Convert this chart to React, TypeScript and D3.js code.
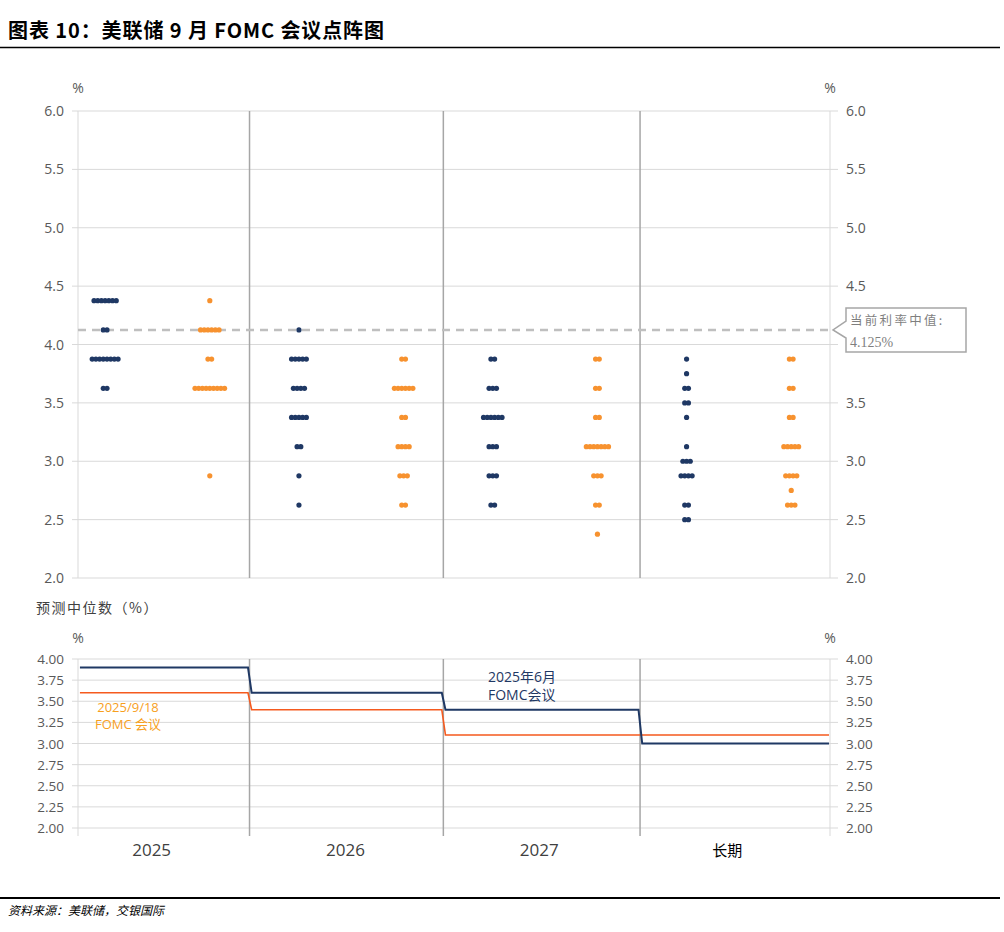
import React from "react";
import * as d3 from "d3";

// ---------- DATA ----------
const groups = ["2025", "2026", "2027", "长期"];
// dots: [rate, count]
const junDots2025 = [[4.375, 7], [4.125, 2], [3.875, 8], [3.625, 2]];
const junDots2026 = [[4.125, 1], [3.875, 5], [3.625, 4], [3.375, 5], [3.125, 2], [2.875, 1], [2.625, 1]];
const junDots2027 = [[3.875, 2], [3.625, 3], [3.375, 6], [3.125, 3], [2.875, 3], [2.625, 2]];
const junDotsLR = [[3.875, 1], [3.75, 1], [3.625, 2], [3.5, 2], [3.375, 1], [3.125, 1], [3.0, 3], [2.875, 4], [2.625, 2], [2.5, 2]];
const sepDots2025 = [[4.375, 1], [4.125, 6], [3.875, 2], [3.625, 9], [2.875, 1]];
const sepDots2026 = [[3.875, 2], [3.625, 6], [3.375, 2], [3.125, 4], [2.875, 3], [2.625, 2]];
const sepDots2027 = [[3.875, 2], [3.625, 2], [3.375, 2], [3.125, 7], [2.875, 3], [2.625, 2], [2.375, 1]];
const sepDotsLR = [[3.875, 2], [3.625, 2], [3.375, 2], [3.125, 5], [2.875, 4], [2.75, 1], [2.625, 3]];
const junDots = [junDots2025, junDots2026, junDots2027, junDotsLR];
const sepDots = [sepDots2025, sepDots2026, sepDots2027, sepDotsLR];

const currentRate = 4.125;
const topTicks = [2.0, 2.5, 3.0, 3.5, 4.0, 4.5, 5.0, 5.5, 6.0];
const bottomTicks = [2.0, 2.25, 2.5, 2.75, 3.0, 3.25, 3.5, 3.75, 4.0];
const junMedians = [3.9, 3.6, 3.4, 3.0];
const sepMedians = [3.6, 3.4, 3.1, 3.1];

// ---------- LAYOUT ----------
const NAVY = "#1F3864";
const ORANGE = "#F7922F";
const RED = "#F55A1E";
const GRID = "#D9D9D9";
const SEPC = "#A6A6A6";
const LBL = "#595959";

const xDomain = [-0.14, 3.74];
const separators = [0.745, 1.745, 2.76];
const orangeOffset = 0.54;
const catLabelPos = [0.24, 1.24, 2.24, 3.21];
const L = 78, R = 830;

export default function App() {
  const x = d3.scaleLinear().domain(xDomain).range([L, R]);
  const yTop = d3.scaleLinear().domain([2, 6]).range([578, 111]);
  const yBot = d3.scaleLinear().domain([2, 4]).range([828, 659]);
  const dotStep = 3.7;
  const r = 2.6;

  const renderDots = (rows: number[][], center: number, color: string, key: string) =>
    rows.flatMap(([v, n], ri) =>
      d3.range(n).map((k) => (
        <circle
          key={`${key}-${ri}-${k}`}
          cx={center + (k - (n - 1) / 2) * dotStep}
          cy={yTop(v)}
          r={r}
          fill={color}
        />
      ))
    );

  const stepLine = (meds: number[]) => {
    const pts: [number, number][] = [];
    const bounds = [xDomain[0] + 0.01, ...separators, xDomain[1] - 0.005];
    meds.forEach((m, i) => {
      const a = i === 0 ? bounds[0] : bounds[i] + 0.011;
      const b = i === meds.length - 1 ? bounds[i + 1] : bounds[i + 1] - 0.008;
      pts.push([x(a), yBot(m)], [x(b), yBot(m)]);
    });
    return d3.line()(pts) || "";
  };

  const font = "'Open Sans', 'Noto Sans CJK SC', sans-serif";
  const cjk = "'Noto Sans CJK SC', sans-serif";

  return (
    <svg
      width={1004}
      height={932}
      style={{ position: "absolute", left: 0, top: 0, background: "#fff" }}
      fontFamily={font}
    >
      {/* Title */}
      <text
        x={8}
        y={38}
        fontSize={20}
        fontWeight={700}
        fontFamily={cjk}
        fill="#000"
        textLength={376}
        lengthAdjust="spacing"
      >
        图表 10：美联储 9 月 FOMC 会议点阵图
      </text>
      <line x1={0} x2={1000} y1={47.5} y2={47.5} stroke="#000" strokeWidth={1.5} />

      {/* ---------- TOP DOT PLOT ---------- */}
      <text x={L} y={93} fontSize={14} fill={LBL} textAnchor="middle">%</text>
      <text x={R} y={93} fontSize={14} fill={LBL} textAnchor="middle">%</text>
      {topTicks.map((t) => (
        <g key={`tg${t}`}>
          <line x1={L - 6} x2={R + 8} y1={yTop(t)} y2={yTop(t)} stroke={GRID} strokeWidth={1} />
          <text x={64} y={yTop(t) + 5} fontSize={14} fill={LBL} textAnchor="end">{t.toFixed(1)}</text>
          {t !== 4.0 && (
            <text x={846} y={yTop(t) + 5} fontSize={14} fill={LBL}>{t.toFixed(1)}</text>
          )}
        </g>
      ))}
      <line x1={L} x2={L} y1={yTop(6)} y2={yTop(2)} stroke={GRID} />
      <line x1={R} x2={R} y1={yTop(6)} y2={yTop(2)} stroke={GRID} />
      {separators.map((s) => (
        <line key={`s${s}`} x1={x(s)} x2={x(s)} y1={yTop(6)} y2={yTop(2)} stroke={SEPC} strokeWidth={1.5} />
      ))}
      <line
        x1={L}
        x2={842}
        y1={yTop(currentRate)}
        y2={yTop(currentRate)}
        stroke="#BFBFBF"
        strokeWidth={2.5}
        strokeDasharray="8 6"
      />
      {groups.map((g, i) => (
        <g key={`d${g}`}>
          {renderDots(junDots[i], x(i), NAVY, `n${i}`)}
          {renderDots(sepDots[i], x(i + orangeOffset), ORANGE, `o${i}`)}
        </g>
      ))}
      {/* callout */}
      <path
        d={`M846,308 L966,308 L966,352 L846,352 L846,338 L833,${yTop(currentRate)} L846,321 Z`}
        fill="#fff"
        stroke={SEPC}
        strokeWidth={1.5}
      />
      <text x={850} y={325} fontSize={12.5} fill="#7F7F7F" fontFamily={cjk} letterSpacing={2.3}>
        当前利率中值:
      </text>
      <text x={850} y={346.5} fontSize={14} fill="#7F7F7F" fontFamily="'Liberation Serif', serif">
        {`${currentRate}%`}
      </text>

      {/* ---------- BOTTOM LINE CHART ---------- */}
      <text x={36} y={613} fontSize={14} fill="#404040" fontFamily={cjk} letterSpacing={1.5}>
        预测中位数（%）
      </text>
      <text x={L} y={643} fontSize={14} fill={LBL} textAnchor="middle">%</text>
      <text x={R} y={643} fontSize={14} fill={LBL} textAnchor="middle">%</text>
      {bottomTicks.map((t) => (
        <g key={`bg${t}`}>
          <line x1={L - 6} x2={R + 8} y1={yBot(t)} y2={yBot(t)} stroke={GRID} strokeWidth={1} />
          <text x={64} y={yBot(t) + 5} fontSize={13.5} fill={LBL} textAnchor="end">{t.toFixed(2)}</text>
          <text x={846} y={yBot(t) + 5} fontSize={13.5} fill={LBL}>{t.toFixed(2)}</text>
        </g>
      ))}
      <line x1={L} x2={L} y1={yBot(4)} y2={yBot(2) + 8} stroke={GRID} />
      <line x1={R} x2={R} y1={yBot(4)} y2={yBot(2) + 8} stroke={GRID} />
      {separators.map((s) => (
        <line key={`bs${s}`} x1={x(s)} x2={x(s)} y1={yBot(4)} y2={yBot(2) + 8} stroke={SEPC} strokeWidth={1.5} />
      ))}
      <path d={stepLine(sepMedians)} fill="none" stroke={RED} strokeWidth={1.6} />
      <path d={stepLine(junMedians)} fill="none" stroke={NAVY} strokeWidth={2} />
      <text x={128} y={712} fontSize={13} fill="#F7A01E" textAnchor="middle">2025/9/18</text>
      <text x={128} y={729} fontSize={13} fill="#F7A01E" textAnchor="middle">FOMC 会议</text>
      <text x={488} y={682} fontSize={14} fill={NAVY}>2025年6月</text>
      <text x={488} y={700} fontSize={14} fill={NAVY}>FOMC会议</text>
      {groups.map((g, i) => (
        <text
          key={`cl${g}`}
          x={x(catLabelPos[i])}
          y={856}
          fontSize={i === 3 ? 15 : 17}
          fill={i === 3 ? "#000" : "#404040"}
          fontFamily={i === 3 ? cjk : font}
          textAnchor="middle"
        >
          {g}
        </text>
      ))}

      {/* footer */}
      <line x1={0} x2={1000} y1={898} y2={898} stroke="#000" strokeWidth={2} />
      <text x={8} y={915} fontSize={12} fontStyle="italic" fill="#000" fontFamily={cjk}>
        资料来源：美联储，交银国际
      </text>
    </svg>
  );
}
